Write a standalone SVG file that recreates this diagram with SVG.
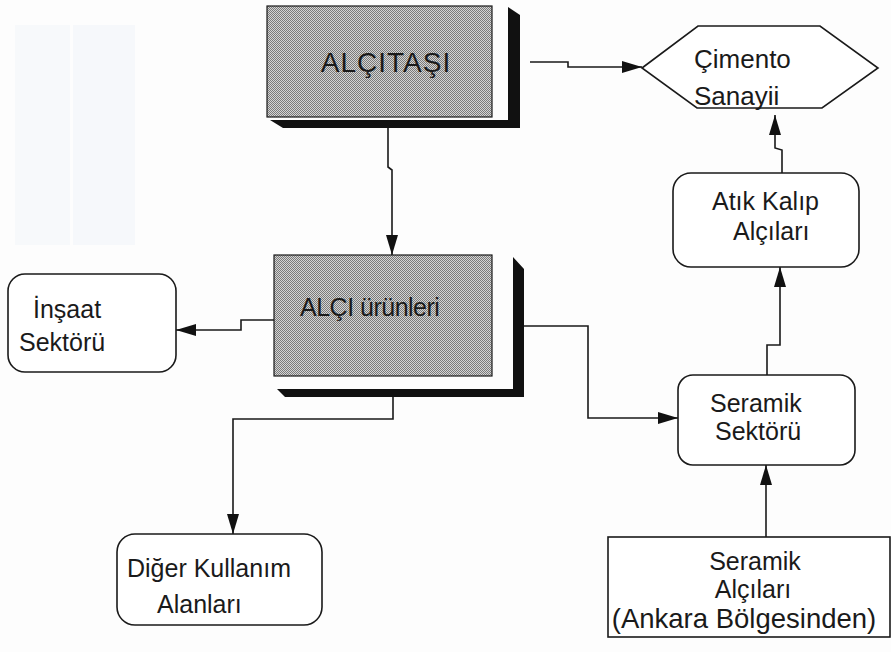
<svg xmlns="http://www.w3.org/2000/svg" width="891" height="652" viewBox="0 0 891 652">
<style>
.t{font-family:"Liberation Sans",Arial,sans-serif;font-size:25px;fill:#1a1a1a}
.box{fill:#fff;stroke:#1a1a1a;stroke-width:1.6}
.gray{fill:url(#dith);stroke:#1a1a1a;stroke-width:1.2}
.sh{fill:#111}
.c{fill:none;stroke:#1a1a1a;stroke-width:1.6;marker-end:url(#ah)}
</style>
<defs>
<pattern id="dith" width="2" height="2" patternUnits="userSpaceOnUse">
<rect width="2" height="2" fill="#d4d4d4"/>
<rect width="1" height="1" fill="#7a7a7a"/>
<rect x="1" y="1" width="1" height="1" fill="#7a7a7a"/>
</pattern>
<marker id="ah" markerUnits="userSpaceOnUse" markerWidth="20" markerHeight="12" refX="20" refY="6" orient="auto">
<path d="M0,0 L20,6 L0,12 z" fill="#111"/>
</marker>
</defs>
<rect width="891" height="652" fill="#fdfdfd"/>
<rect x="15" y="25" width="55" height="220" fill="#f7f9fb"/>
<rect x="73" y="25" width="62" height="220" fill="#f6f8fb"/>
<g id="connectors">
<path class="c" d="M530,62 H568 V67 H642"/>
<path class="c" d="M388,128 V167 L392,170 V255"/>
<path class="c" d="M274,320 H241 V330 H176"/>
<path class="c" d="M524,326 H588 V418 H678"/>
<path class="c" d="M393,397 V419 H233 V534"/>
<path class="c" d="M767,375 V345 H780 V267"/>
<path class="c" d="M782,173 V150 L775,148 V115"/>
<path class="c" d="M766,537 V465"/>
</g>
<g id="alcitasi">
<polygon class="sh" points="508,7 520,15 520,128 283,128 270,120 508,120"/>
<rect class="gray" x="267" y="6" width="225" height="111"/>
<text class="t" x="386" y="72" text-anchor="middle" style="font-size:28px;letter-spacing:1px">ALÇITAŞI</text>
</g>
<g id="cimento">
<polygon class="box" points="642,68 698,26 820,26 878,68 822,108 697,108"/>
<text class="t" x="694" y="68" style="font-size:26px">Çimento</text>
<text class="t" x="694" y="105" style="font-size:26px">Sanayii</text>
</g>
<g id="alci-urunleri">
<polygon class="sh" points="513,257 524,269 524,397 285,397 277,389 513,389"/>
<rect class="gray" x="274" y="255" width="218" height="121"/>
<text class="t" x="300" y="316" style="letter-spacing:-0.5px">ALÇI ürünleri</text>
</g>
<g id="insaat">
<rect class="box" x="8" y="274" width="168" height="98" rx="17"/>
<text class="t" x="33" y="318">İnşaat</text>
<text class="t" x="19" y="351">Sektörü</text>
</g>
<g id="atik">
<rect class="box" x="673" y="173" width="186" height="94" rx="18"/>
<text class="t" x="712" y="210">Atık Kalıp</text>
<text class="t" x="733" y="240">Alçıları</text>
</g>
<g id="seramik-sektoru">
<rect class="box" x="678" y="375" width="177" height="90" rx="15"/>
<text class="t" x="710" y="412">Seramik</text>
<text class="t" x="715" y="440">Sektörü</text>
</g>
<g id="diger">
<rect class="box" x="117" y="534" width="205" height="91" rx="18"/>
<text class="t" x="127" y="577">Diğer Kullanım</text>
<text class="t" x="157" y="613">Alanları</text>
</g>
<g id="seramik-alcilari">
<rect class="box" x="608" y="537" width="282" height="100"/>
<text class="t" x="755" y="570" text-anchor="middle">Seramik</text>
<text class="t" x="753" y="598" text-anchor="middle">Alçıları</text>
<text class="t" x="744" y="628" text-anchor="middle" style="font-size:27.5px">(Ankara Bölgesinden)</text>
</g>
</svg>
